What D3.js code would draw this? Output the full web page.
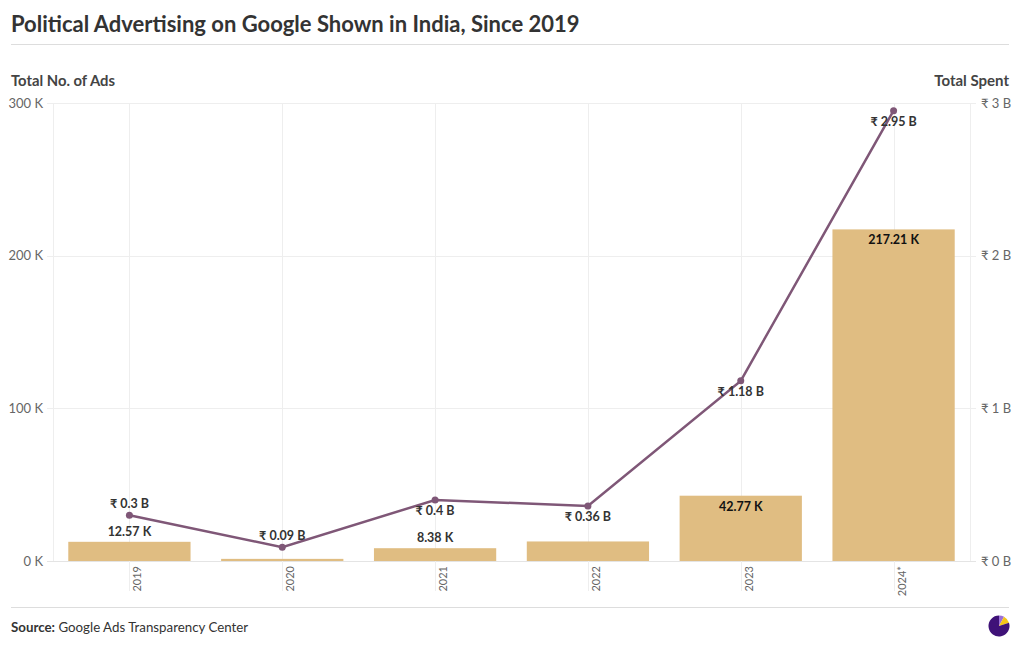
<!DOCTYPE html>
<html><head><meta charset="utf-8">
<script src="https://cdn.jsdelivr.net/npm/d3@7"></script>
<style>body{margin:0;background:#fff;} svg{display:block;font-family:Lato,"Open Sans",sans-serif;}</style>
</head><body><svg id="c" width="1020" height="650"></svg>
<script>
const years = ["2019","2020","2021","2022","2023","2024*"];
const ads = [12570, 1400, 8380, 12800, 42770, 217210];
const adLabels = ["12.57 K", "", "8.38 K", "", "42.77 K", "217.21 K"];
const spent = [0.30, 0.09, 0.40, 0.36, 1.18, 2.95];
const spentLabels = ["₹ 0.3 B", "₹ 0.09 B", "₹ 0.4 B", "₹ 0.36 B", "₹ 1.18 B", "₹ 2.95 B"];
const spentLabelPos = ["above", "above", "below", "below", "below", "below"];
const adLabelPos = ["above", "above", "above", "above", "inside", "inside"];
const leftTicks = [0, 100000, 200000, 300000];
const rightTicks = [0, 1, 2, 3];

const svg = d3.select("#c");
const L = 53, R = 970, T = 103, B = 561;
const x = d3.scaleBand().domain(years).range([L, R]).paddingInner(0.2).paddingOuter(0.1);
const yL = d3.scaleLinear().domain([0, 300000]).range([B, T]);
const yR = d3.scaleLinear().domain([0, 3]).range([B, T]);

// title
svg.append("text").attr("x", 11).attr("y", 32).attr("font-size", 22).attr("font-weight", 700)
  .attr("fill", "#333").text("Political Advertising on Google Shown in India, Since 2019");
svg.append("line").attr("x1", 11).attr("x2", 1009).attr("y1", 44.5).attr("y2", 44.5).attr("stroke", "#ddd");

// axis titles
svg.append("text").attr("x", 11).attr("y", 86).attr("font-size", 14.8).attr("font-weight", 700).attr("fill", "#444").text("Total No. of Ads");
svg.append("text").attr("x", 1009).attr("y", 86).attr("text-anchor", "end").attr("font-size", 15).attr("font-weight", 700).attr("fill", "#444").text("Total Spent");

// horizontal grid
svg.append("g").selectAll("line").data(leftTicks).join("line")
  .attr("x1", 47).attr("x2", 976).attr("y1", d => Math.round(yL(d)) + 0.5).attr("y2", d => Math.round(yL(d)) + 0.5)
  .attr("stroke", d => d === 0 ? "#e4e4e4" : "#eeeeee");
// vertical edges
[L, R].forEach(xx => svg.append("line").attr("x1", xx + 0.5).attr("x2", xx + 0.5).attr("y1", T).attr("y2", B).attr("stroke", "#eeeeee"));
// vertical grid at bands
svg.append("g").selectAll("line").data(years).join("line")
  .attr("x1", d => Math.round(x(d) + x.bandwidth() / 2) + 0.5).attr("x2", d => Math.round(x(d) + x.bandwidth() / 2) + 0.5)
  .attr("y1", T).attr("y2", 591).attr("stroke", "#eeeeee");

// left axis labels
const axL = d3.axisLeft(yL).tickValues(leftTicks).tickFormat(d => (d / 1000) + " K").tickSize(0).tickPadding(10);
const gL = svg.append("g").attr("transform", `translate(${L},0)`).call(axL);
gL.select(".domain").remove();
gL.selectAll("text").attr("font-size", 13).attr("fill", "#666").attr("font-family", "Lato,sans-serif");
const axR = d3.axisRight(yR).tickValues(rightTicks).tickFormat(d => "₹ " + d + " B").tickSize(0).tickPadding(11);
const gR = svg.append("g").attr("transform", `translate(${R},0)`).call(axR);
gR.select(".domain").remove();
gR.selectAll("text").attr("font-size", 13).attr("fill", "#666").attr("font-family", "Lato,sans-serif");

// x labels
const axX = d3.axisBottom(x).tickSize(0).tickPadding(0);
const gX = svg.append("g").attr("transform", `translate(0,${B})`).call(axX);
gX.select(".domain").remove();
gX.selectAll("text").attr("font-size", 11).attr("fill", "#666").attr("font-family", "Lato,sans-serif")
  .attr("text-anchor", "end").attr("dy", 0).attr("y", 0)
  .attr("transform", "translate(12,5) rotate(-90)");

// bars
svg.append("g").selectAll("rect").data(years).join("rect")
  .attr("x", d => x(d)).attr("width", x.bandwidth())
  .attr("y", (d, i) => yL(ads[i])).attr("height", (d, i) => B - yL(ads[i]))
  .attr("fill", "#e0bd82");

// bar labels
svg.append("g").selectAll("text").data(years).join("text")
  .attr("x", d => x(d) + x.bandwidth() / 2)
  .attr("y", (d, i) => adLabelPos[i] === "inside" ? yL(ads[i]) + 15 : yL(ads[i]) - 6)
  .attr("text-anchor", "middle").attr("font-size", 12.5).attr("font-weight", 700)
  .attr("fill", (d, i) => adLabelPos[i] === "inside" ? "#111" : "#333")
  .text((d, i) => adLabels[i]);

// line
const line = d3.line().x((d, i) => x(years[i]) + x.bandwidth() / 2).y(d => yR(d));
svg.append("path").datum(spent).attr("d", line).attr("fill", "none").attr("stroke", "#7f5777").attr("stroke-width", 2.5);
svg.append("g").selectAll("circle").data(spent).join("circle")
  .attr("cx", (d, i) => x(years[i]) + x.bandwidth() / 2).attr("cy", d => yR(d)).attr("r", 3.5).attr("fill", "#7f5777");
svg.append("g").selectAll("text").data(spent).join("text")
  .attr("x", (d, i) => x(years[i]) + x.bandwidth() / 2)
  .attr("y", (d, i) => spentLabelPos[i] === "above" ? yR(d) - 7 : yR(d) + 15)
  .attr("text-anchor", "middle").attr("font-size", 12.5).attr("font-weight", 700).attr("fill", "#333")
  .text((d, i) => spentLabels[i]);

// footer
svg.append("line").attr("x1", 11).attr("x2", 1009).attr("y1", 607.5).attr("y2", 607.5).attr("stroke", "#ddd");
const src = svg.append("text").attr("x", 11).attr("y", 632).attr("font-size", 13.3).attr("fill", "#333");
src.append("tspan").attr("font-weight", 700).text("Source:");
src.append("tspan").text(" Google Ads Transparency Center");

// logo
const pie = d3.pie().sort(null)([0.08, 0.12, 0.8]);
const arc = d3.arc().innerRadius(0).outerRadius(10.5);
const logoColors = ["#9b6fd6", "#f5c518", "#3f1278"];
svg.append("g").attr("transform", "translate(999,626)").selectAll("path").data(pie).join("path")
  .attr("d", arc).attr("fill", (d, i) => logoColors[i]);
</script></body></html>
